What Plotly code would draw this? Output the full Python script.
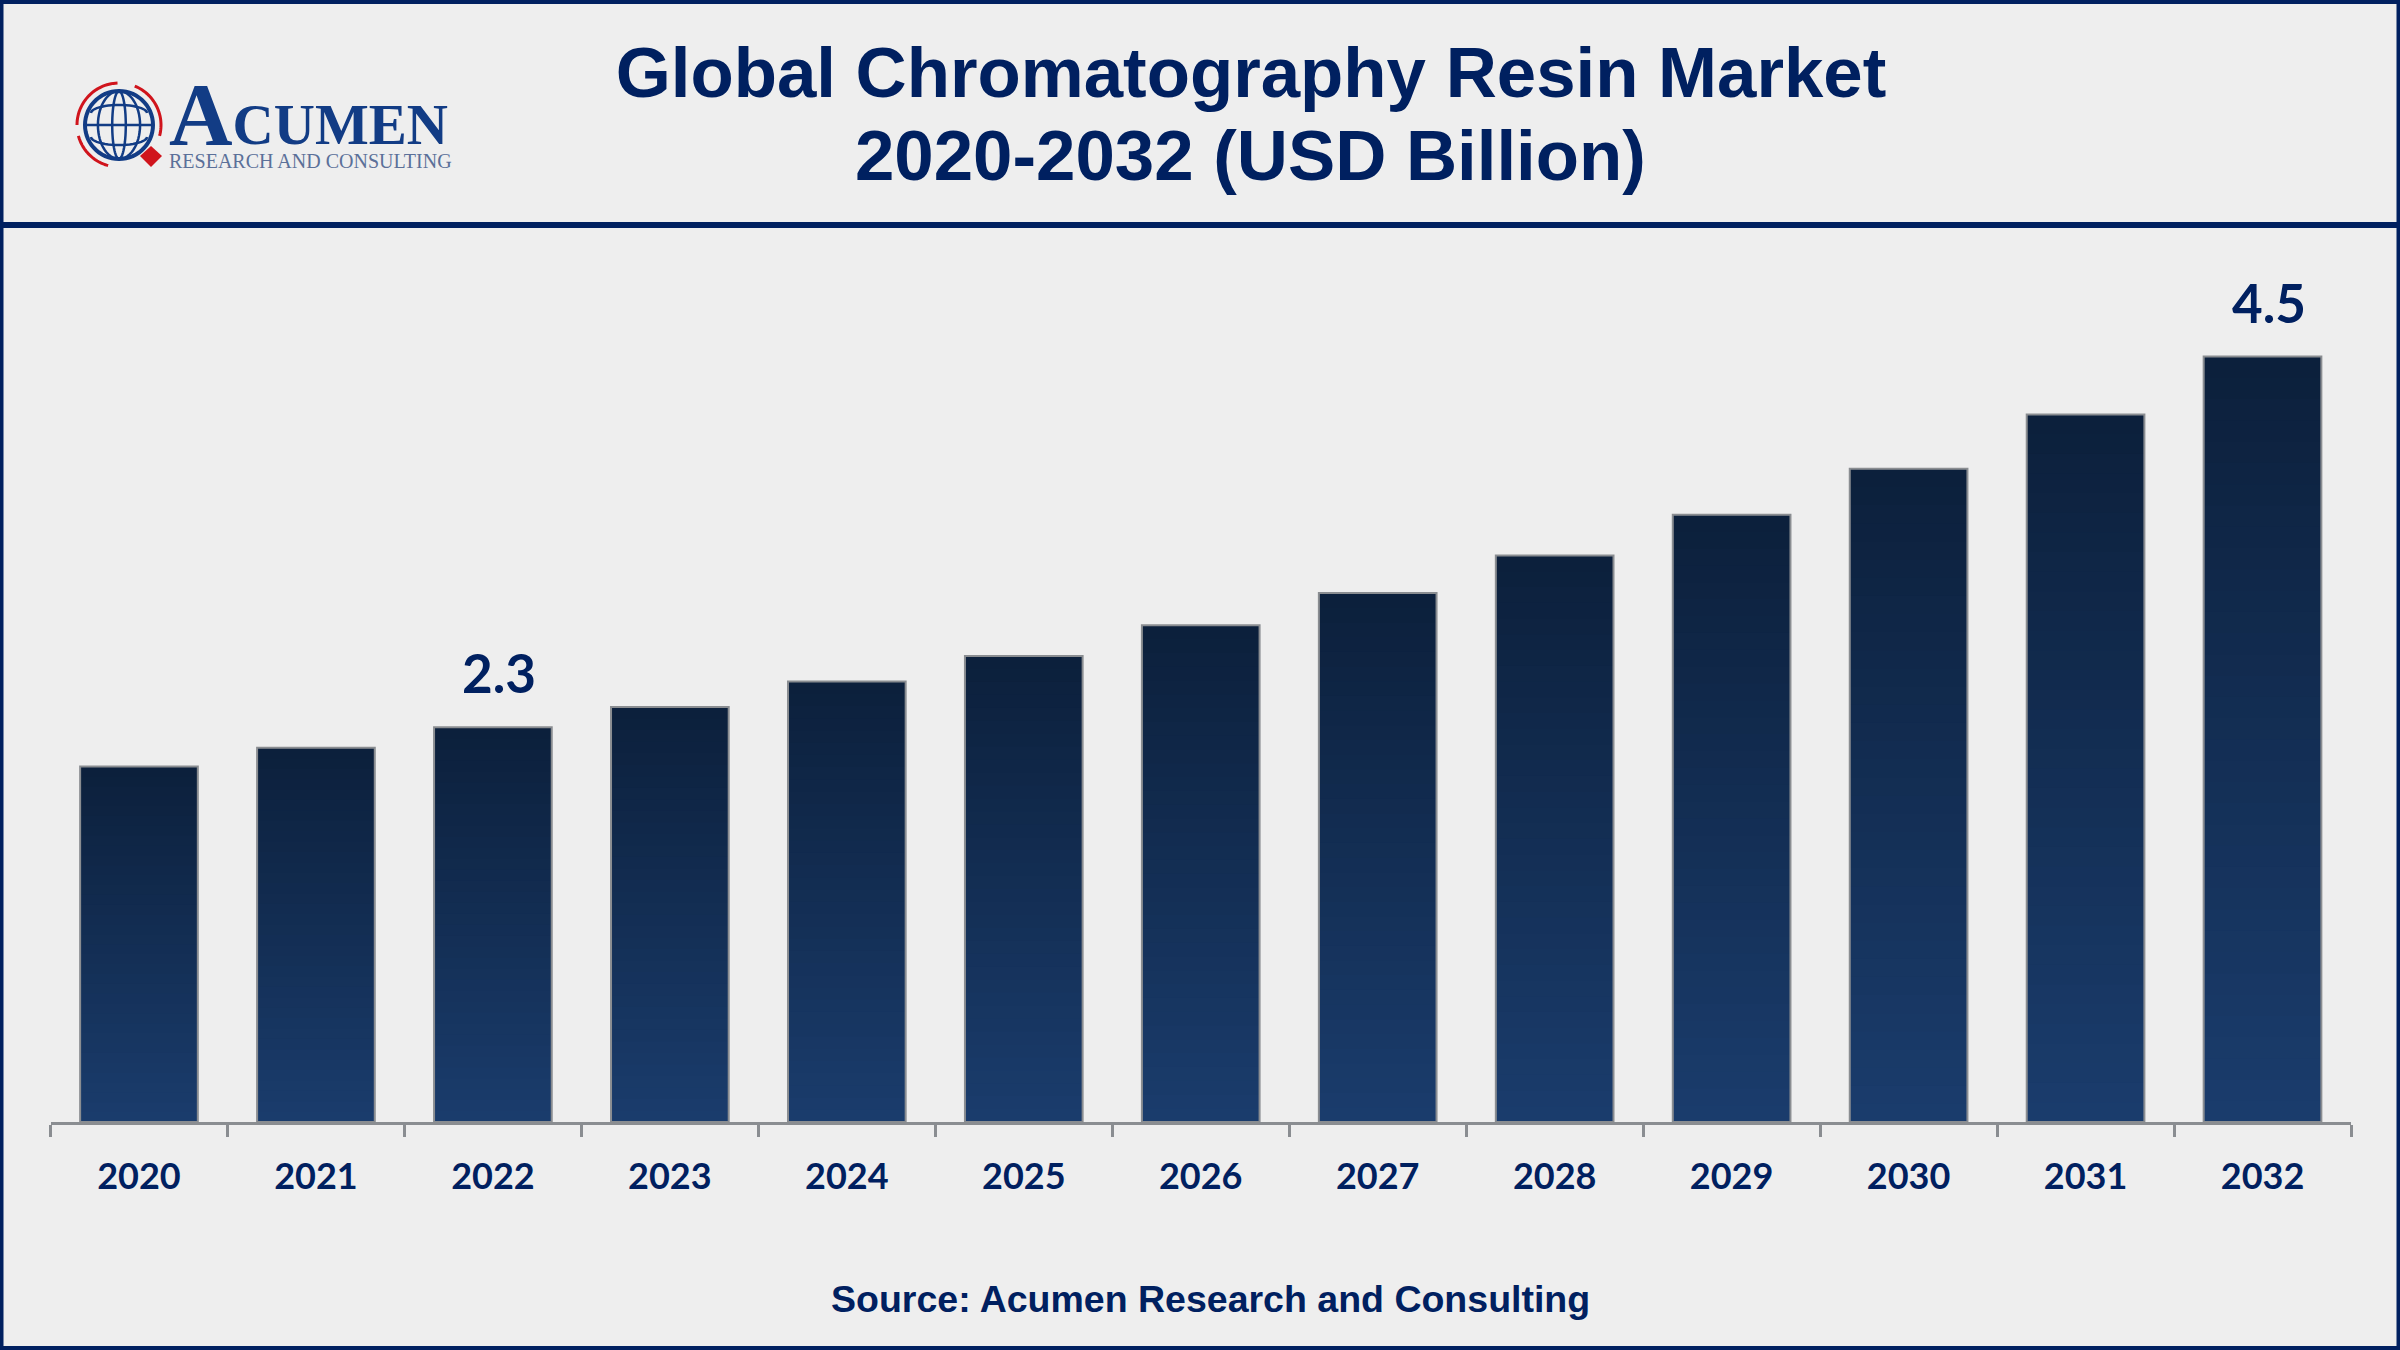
import math
import plotly.graph_objects as go

years = ["2020","2021","2022","2023","2024","2025","2026","2027","2028","2029","2030","2031","2032"]
market_values = [2.09, 2.20, 2.32, 2.44, 2.59, 2.74, 2.92, 3.11, 3.33, 3.57, 3.84, 4.16, 4.50]
labelled_years = {"2022": "2.3", "2032": "4.5"}

W, H = 2400, 1350
NAVY = "#002060"
GREY = "#8a8d91"
BG = "#eeeeee"
TOP_RGB = (12, 32, 60)
BOTTOM_RGB = (26, 60, 108)
BANDS = 36
UNIT_PX = 170.1
BASE_Y = 1122
TOP_Y = 240
BAR_WIDTH = 0.665
LOGO_BLUE = "#123c85"
LOGO_RED = "#d0141c"


def px(x):
    return x / W


def py(y):
    return 1 - y / H


fig = go.Figure()
for k in range(BANDS):
    f = 1 - k / BANDS
    t = k / (BANDS - 1)
    c = [round(a + (b - a) * t) for a, b in zip(TOP_RGB, BOTTOM_RGB)]
    fig.add_trace(go.Bar(
        x=years,
        y=[v * f for v in market_values],
        width=BAR_WIDTH,
        marker=dict(color=f"rgb({c[0]},{c[1]},{c[2]})", line=dict(width=0)),
        showlegend=False,
        hoverinfo="skip",
    ))
fig.add_trace(go.Bar(
    x=years,
    y=market_values,
    width=BAR_WIDTH,
    marker=dict(color="rgba(0,0,0,0)", line=dict(color=GREY, width=2)),
    showlegend=False,
    name="Market size (USD Billion)",
))


def frame_line(x0, y0, x1, y1, width):
    return dict(type="line", xref="paper", yref="paper", x0=px(x0), y0=py(y0), x1=px(x1), y1=py(y1),
                line=dict(color=NAVY, width=width))


def arc_path(cx, cy, rx, ry, a0, a1, steps=40):
    pts = []
    for i in range(steps + 1):
        a = math.radians(a0 + (a1 - a0) * i / steps)
        pts.append((px(cx + rx * math.cos(a)), py(cy + ry * math.sin(a))))
    return "M " + " L ".join(f"{a:.5f},{b:.5f}" for a, b in pts)


def poly_path(points, close=False):
    s = "M " + " L ".join(f"{px(a):.5f},{py(b):.5f}" for a, b in points)
    return s + (" Z" if close else "")


shapes = [
    frame_line(1.5, 2, W - 1.5, 2, 4),
    frame_line(1.5, H - 2, W - 1.5, H - 2, 4),
    frame_line(1.5, 0, 1.5, H, 4),
    frame_line(W - 1.5, 0, W - 1.5, H, 4),
    frame_line(0, 225, W, 225, 6),
]

GX, GY, GR = 119, 125, 34
for rx, ry, lw in [(GR, GR, 4), (GR * 0.62, GR, 2.5), (GR * 0.2, GR, 2.5)]:
    shapes.append(dict(type="path", xref="paper", yref="paper",
                       path=arc_path(GX, GY, rx, ry, 0, 360, 60),
                       line=dict(color=LOGO_BLUE, width=lw)))
shapes.append(dict(type="path", xref="paper", yref="paper",
                   path=poly_path([(GX - GR, GY), (GX + GR, GY)]),
                   line=dict(color=LOGO_BLUE, width=2.5)))
for cy_off, half, bow, a0, a1 in [(-12, 28, 8, 180, 360), (12, 28, 8, 180, 0)]:
    shapes.append(dict(type="path", xref="paper", yref="paper",
                       path=arc_path(GX, GY + cy_off, half, bow, a0, a1, 24),
                       line=dict(color=LOGO_BLUE, width=2.5)))
for a0, a1 in [(180, 268), (292, 375), (105, 165)]:
    shapes.append(dict(type="path", xref="paper", yref="paper",
                       path=arc_path(GX, GY, 42, 42, a0, a1, 30),
                       line=dict(color=LOGO_RED, width=3)))
shapes.append(dict(type="path", xref="paper", yref="paper",
                   path=poly_path([(151, 146), (162, 156), (151, 167), (140, 156)], True),
                   fillcolor=LOGO_RED, line=dict(width=0)))

annotations = [
    dict(x=px(1250), y=py(155), xref="paper", yref="paper", text="<b>2020-2032 (USD Billion)</b>",
         showarrow=False, font=dict(family="Liberation Sans", size=70.8, color=NAVY), xanchor="center", yanchor="middle"),
    dict(x=px(1210), y=py(1299), xref="paper", yref="paper", text="<b>Source: Acumen Research and Consulting</b>",
         showarrow=False, font=dict(family="Liberation Sans", size=37.5, color=NAVY), xanchor="center", yanchor="middle"),
    dict(x=px(167), y=py(115), xref="paper", yref="paper",
         text='<b><span style="font-size:88px">A</span>CUMEN</b>',
         showarrow=False, font=dict(family="Liberation Serif", size=57, color=LOGO_BLUE), xanchor="left", yanchor="middle"),
    dict(x=px(167), y=py(161), xref="paper", yref="paper", text="RESEARCH AND CONSULTING",
         showarrow=False, font=dict(family="Liberation Serif", size=20, color="#5b7099"), xanchor="left", yanchor="middle"),
]
for yr, lab in labelled_years.items():
    i = years.index(yr)
    annotations.append(dict(x=i, y=market_values[i], xref="x", yref="y", text=f"<b>{lab}</b>",
                            showarrow=False, yanchor="bottom", yshift=21, xshift=6,
                            font=dict(family="Lato", size=53, color=NAVY)))

fig.update_layout(
    width=W, height=H,
    margin=dict(l=0, r=0, t=0, b=0),
    paper_bgcolor=BG, plot_bgcolor=BG,
    barmode="overlay",
    showlegend=False,
    title=dict(text="<b>Global Chromatography Resin Market</b>",
               x=px(1251), xanchor="center", y=py(72), yanchor="middle",
               font=dict(family="Liberation Sans", size=70.8, color=NAVY)),
    xaxis=dict(domain=[px(50.5), px(2351)], type="category", range=[-0.5, 12.5],
               tickson="boundaries", ticks="outside", ticklen=12, tickwidth=3, tickcolor=GREY,
               showline=True, linecolor=GREY, linewidth=3, showgrid=False,
               tickfont=dict(family="Lato", size=36, color=NAVY), ticklabelstandoff=21, tickangle=0,
               tickprefix="<b>", ticksuffix="</b>"),
    yaxis=dict(domain=[py(BASE_Y), py(TOP_Y)], range=[0, (BASE_Y - TOP_Y) / UNIT_PX], visible=False),
    shapes=shapes,
    annotations=annotations,
)

fig.write_html("out.html", config={"displayModeBar": False},
               post_script="document.body.style.margin='0';document.body.style.overflow='hidden';")
